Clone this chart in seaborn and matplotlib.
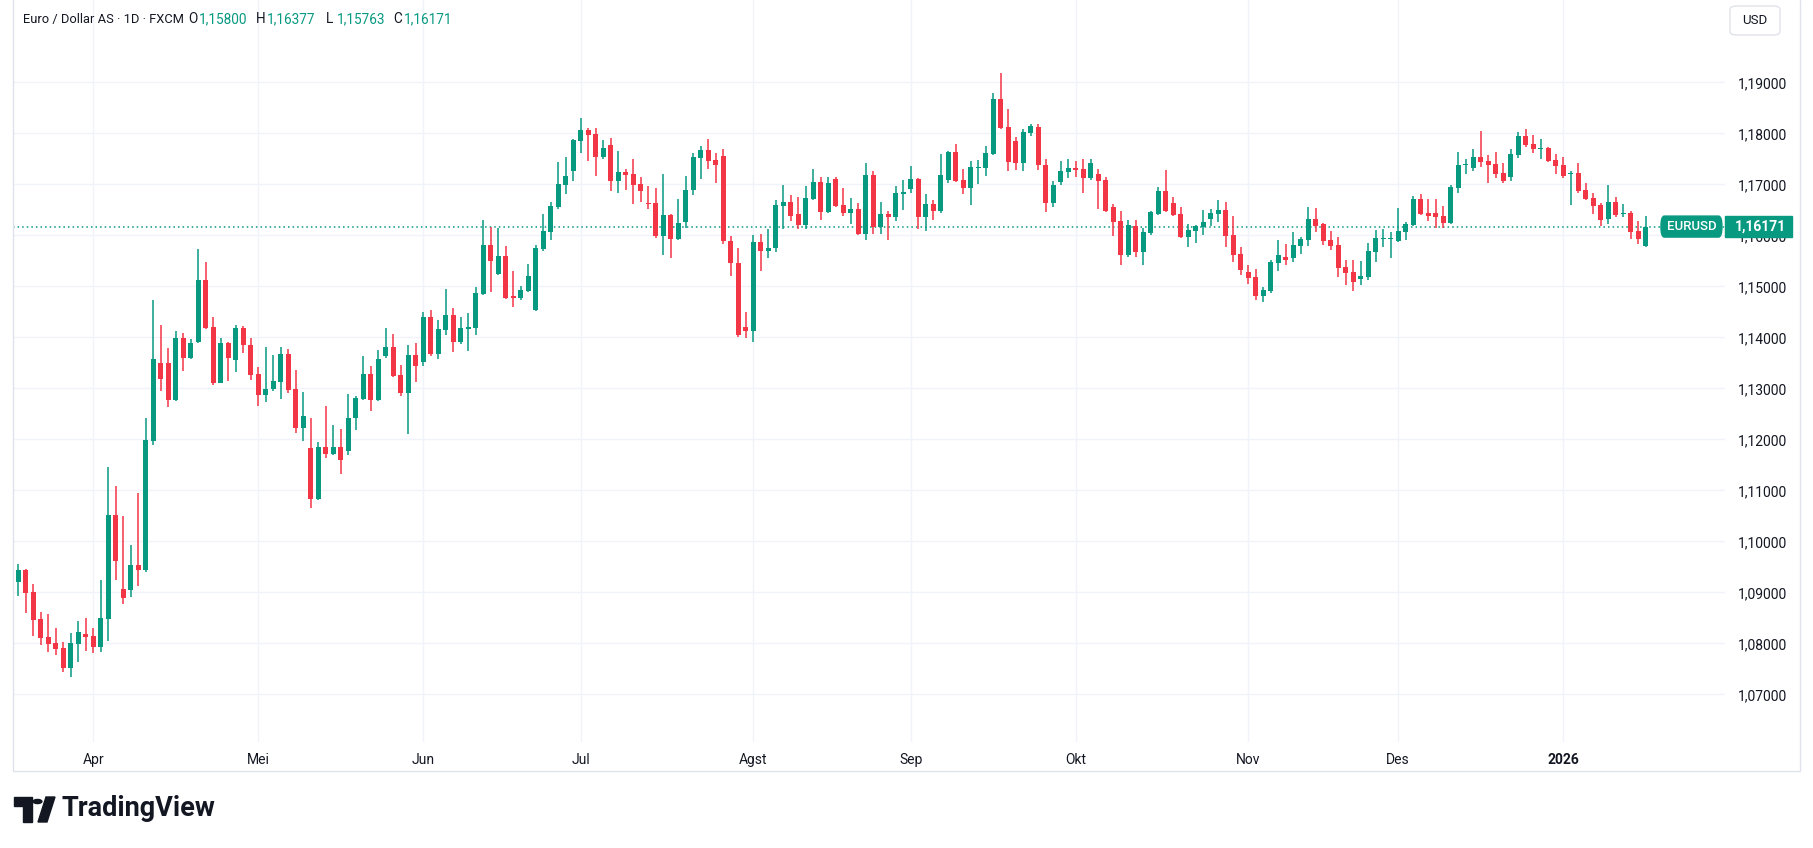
import pandas as pd
import numpy as np
import matplotlib.pyplot as plt
import seaborn as sns
from matplotlib.lines import Line2D
from matplotlib.patches import Rectangle, Polygon, Circle, FancyBboxPatch
from matplotlib.transforms import blended_transform_factory

# Daily EUR/USD bars (weekdays, no bar on Christmas day)
dates = pd.bdate_range('2025-03-18', '2026-01-16')
dates = dates[dates != pd.Timestamp('2025-12-25')]

opens = [
    1.0921, 1.0944, 1.0900, 1.0848, 1.0812, 1.0801, 1.0791, 1.0752, 1.0799, 1.0818,
    1.0814, 1.0792, 1.0848, 1.1052, 1.0907, 1.0905, 1.0954, 1.0944, 1.1197, 1.1350,
    1.1350, 1.1277, 1.1399, 1.1360, 1.1390, 1.1512, 1.1420, 1.1311, 1.1389, 1.1356,
    1.1418, 1.1385, 1.1328, 1.1286, 1.1299, 1.1313, 1.1367, 1.1299, 1.1223, 1.1183,
    1.1082, 1.1185, 1.1172, 1.1185, 1.1178, 1.1241, 1.1280, 1.1328, 1.1278, 1.1363,
    1.1381, 1.1326, 1.1290, 1.1365, 1.1352, 1.1440, 1.1367, 1.1414, 1.1444, 1.1391,
    1.1416, 1.1418, 1.1485, 1.1581, 1.1524, 1.1559, 1.1480, 1.1477, 1.1491, 1.1454,
    1.1573, 1.1607, 1.1656, 1.1699, 1.1726, 1.1785, 1.1807, 1.1799, 1.1754, 1.1777,
    1.1707, 1.1724, 1.1720, 1.1701, 1.1663, 1.1663, 1.1599, 1.1640, 1.1593, 1.1626,
    1.1688, 1.1752, 1.1767, 1.1748, 1.1756, 1.1588, 1.1545, 1.1420, 1.1412, 1.1586,
    1.1570, 1.1575, 1.1658, 1.1665, 1.1642, 1.1620, 1.1671, 1.1705, 1.1646, 1.1710,
    1.1659, 1.1644, 1.1652, 1.1603, 1.1718, 1.1616, 1.1642, 1.1636, 1.1681, 1.1691,
    1.1710, 1.1636, 1.1661, 1.1648, 1.1708, 1.1763, 1.1708, 1.1693, 1.1732, 1.1732,
    1.1759, 1.1867, 1.1812, 1.1785, 1.1742, 1.1801, 1.1812, 1.1738, 1.1664, 1.1705,
    1.1724, 1.1732, 1.1730, 1.1712, 1.1720, 1.1708, 1.1656, 1.1628, 1.1561, 1.1618,
    1.1567, 1.1605, 1.1642, 1.1687, 1.1663, 1.1642, 1.1597, 1.1608, 1.1616, 1.1632,
    1.1642, 1.1650, 1.1601, 1.1563, 1.1528, 1.1518, 1.1481, 1.1491, 1.1546, 1.1558,
    1.1556, 1.1579, 1.1591, 1.1632, 1.1622, 1.1591, 1.1581, 1.1538, 1.1528, 1.1514,
    1.1518, 1.1567, 1.1593, 1.1593, 1.1589, 1.1607, 1.1620, 1.1671, 1.1644, 1.1644,
    1.1638, 1.1624, 1.1693, 1.1737, 1.1732, 1.1754, 1.1746, 1.1740, 1.1722, 1.1714,
    1.1758, 1.1795, 1.1779, 1.1769, 1.1771, 1.1748, 1.1738, 1.1720, 1.1722, 1.1689,
    1.1673, 1.1659, 1.1632, 1.1665, 1.1642, 1.1644, 1.1608, 1.15800,
]
highs = [
    1.0956, 1.0946, 1.0916, 1.0861, 1.0858, 1.0830, 1.0803, 1.0820, 1.0844, 1.0850,
    1.0830, 1.0924, 1.1146, 1.1108, 1.1050, 1.0993, 1.1095, 1.1242, 1.1473, 1.1424,
    1.1379, 1.1412, 1.1408, 1.1397, 1.1573, 1.1548, 1.1440, 1.1399, 1.1391, 1.1424,
    1.1422, 1.1399, 1.1342, 1.1381, 1.1365, 1.1381, 1.1377, 1.1336, 1.1293, 1.1242,
    1.1195, 1.1265, 1.1228, 1.1220, 1.1289, 1.1285, 1.1363, 1.1344, 1.1375, 1.1418,
    1.1407, 1.1346, 1.1385, 1.1389, 1.1450, 1.1454, 1.1434, 1.1495, 1.1458, 1.1440,
    1.1448, 1.1499, 1.1630, 1.1616, 1.1614, 1.1579, 1.1530, 1.1501, 1.1544, 1.1581,
    1.1642, 1.1666, 1.1744, 1.1754, 1.1789, 1.1830, 1.1810, 1.1810, 1.1787, 1.1791,
    1.1765, 1.1730, 1.1750, 1.1714, 1.1697, 1.1693, 1.1720, 1.1642, 1.1671, 1.1716,
    1.1761, 1.1775, 1.1789, 1.1761, 1.1769, 1.1598, 1.1575, 1.1450, 1.1600, 1.1603,
    1.1612, 1.1669, 1.1699, 1.1679, 1.1675, 1.1697, 1.1730, 1.1714, 1.1714, 1.1714,
    1.1693, 1.1673, 1.1663, 1.1742, 1.1726, 1.1665, 1.1648, 1.1697, 1.1708, 1.1736,
    1.1712, 1.1681, 1.1669, 1.1759, 1.1765, 1.1779, 1.1730, 1.1746, 1.1748, 1.1775,
    1.1879, 1.1918, 1.1848, 1.1793, 1.1808, 1.1819, 1.1818, 1.1750, 1.1707, 1.1745,
    1.1750, 1.1745, 1.1750, 1.1750, 1.1730, 1.1714, 1.1661, 1.1648, 1.1630, 1.1630,
    1.1614, 1.1648, 1.1695, 1.1728, 1.1675, 1.1656, 1.1622, 1.1620, 1.1650, 1.1652,
    1.1669, 1.1665, 1.1638, 1.1577, 1.1542, 1.1534, 1.1499, 1.1552, 1.1591, 1.1583,
    1.1607, 1.1597, 1.1656, 1.1654, 1.1624, 1.1608, 1.1597, 1.1552, 1.1552, 1.1550,
    1.1585, 1.1610, 1.1612, 1.1607, 1.1654, 1.1626, 1.1677, 1.1681, 1.1671, 1.1671,
    1.1658, 1.1699, 1.1763, 1.1750, 1.1769, 1.1805, 1.1758, 1.1763, 1.1742, 1.1769,
    1.1803, 1.1808, 1.1797, 1.1789, 1.1773, 1.1759, 1.1754, 1.1726, 1.1742, 1.1703,
    1.1683, 1.1663, 1.1699, 1.1675, 1.1661, 1.1648, 1.1628, 1.16377,
]
lows = [
    1.0893, 1.0860, 1.0815, 1.0797, 1.0782, 1.0777, 1.0744, 1.0733, 1.0764, 1.0784,
    1.0780, 1.0782, 1.0805, 1.0924, 1.0878, 1.0890, 1.0913, 1.0940, 1.1188, 1.1295,
    1.1264, 1.1275, 1.1334, 1.1357, 1.1388, 1.1417, 1.1307, 1.1310, 1.1315, 1.1331,
    1.1370, 1.1317, 1.1266, 1.1274, 1.1295, 1.1280, 1.1291, 1.1213, 1.1197, 1.1066,
    1.1080, 1.1164, 1.1170, 1.1131, 1.1170, 1.1219, 1.1278, 1.1256, 1.1276, 1.1360,
    1.1322, 1.1284, 1.1211, 1.1312, 1.1344, 1.1363, 1.1358, 1.1405, 1.1371, 1.1387,
    1.1373, 1.1405, 1.1483, 1.1489, 1.1522, 1.1475, 1.1459, 1.1473, 1.1489, 1.1452,
    1.1570, 1.1590, 1.1652, 1.1681, 1.1707, 1.1761, 1.1746, 1.1716, 1.1750, 1.1687,
    1.1683, 1.1689, 1.1661, 1.1665, 1.1652, 1.1594, 1.1561, 1.1556, 1.1591, 1.1614,
    1.1679, 1.1710, 1.1730, 1.1703, 1.1582, 1.1520, 1.1400, 1.1398, 1.1390, 1.1530,
    1.1555, 1.1568, 1.1612, 1.1628, 1.1612, 1.1612, 1.1669, 1.1630, 1.1644, 1.1656,
    1.1638, 1.1622, 1.1601, 1.1591, 1.1603, 1.1603, 1.1591, 1.1628, 1.1650, 1.1683,
    1.1612, 1.1608, 1.1630, 1.1644, 1.1703, 1.1705, 1.1681, 1.1659, 1.1701, 1.1716,
    1.1758, 1.1808, 1.1726, 1.1728, 1.1726, 1.1795, 1.1729, 1.1646, 1.1656, 1.1699,
    1.1712, 1.1714, 1.1683, 1.1708, 1.1652, 1.1646, 1.1599, 1.1542, 1.1558, 1.1558,
    1.1542, 1.1601, 1.1640, 1.1646, 1.1638, 1.1595, 1.1577, 1.1585, 1.1601, 1.1618,
    1.1626, 1.1577, 1.1548, 1.1522, 1.1505, 1.1473, 1.1469, 1.1487, 1.1530, 1.1542,
    1.1548, 1.1563, 1.1579, 1.1607, 1.1581, 1.1571, 1.1518, 1.1503, 1.1491, 1.1503,
    1.1512, 1.1548, 1.1577, 1.1556, 1.1587, 1.1591, 1.1618, 1.1640, 1.1628, 1.1614,
    1.1614, 1.1622, 1.1683, 1.1720, 1.1726, 1.1734, 1.1703, 1.1712, 1.1703, 1.1707,
    1.1752, 1.1773, 1.1761, 1.1750, 1.1744, 1.1720, 1.1712, 1.1659, 1.1683, 1.1669,
    1.1642, 1.1618, 1.1622, 1.1636, 1.1636, 1.1593, 1.1583, 1.15763,
]
closes = [
    1.0944, 1.0899, 1.0846, 1.0811, 1.0799, 1.0789, 1.0752, 1.0801, 1.0822, 1.0813,
    1.0792, 1.0850, 1.1052, 1.0962, 1.0888, 1.0954, 1.0944, 1.1199, 1.1358, 1.1319,
    1.1277, 1.1399, 1.1360, 1.1389, 1.1512, 1.1418, 1.1311, 1.1389, 1.1360, 1.1418,
    1.1384, 1.1327, 1.1286, 1.1299, 1.1314, 1.1367, 1.1297, 1.1223, 1.1246, 1.1082,
    1.1185, 1.1172, 1.1185, 1.1160, 1.1242, 1.1281, 1.1328, 1.1278, 1.1358, 1.1381,
    1.1324, 1.1290, 1.1365, 1.1344, 1.1440, 1.1367, 1.1416, 1.1444, 1.1391, 1.1418,
    1.1420, 1.1487, 1.1581, 1.1550, 1.1559, 1.1477, 1.1478, 1.1493, 1.1520, 1.1575,
    1.1608, 1.1658, 1.1701, 1.1716, 1.1787, 1.1807, 1.1797, 1.1754, 1.1771, 1.1707,
    1.1724, 1.1718, 1.1699, 1.1687, 1.1662, 1.1599, 1.1640, 1.1593, 1.1624, 1.1689,
    1.1754, 1.1767, 1.1746, 1.1738, 1.1588, 1.1545, 1.1405, 1.1412, 1.1586, 1.1570,
    1.1575, 1.1659, 1.1665, 1.1638, 1.1620, 1.1673, 1.1705, 1.1646, 1.1703, 1.1658,
    1.1644, 1.1652, 1.1603, 1.1718, 1.1616, 1.1642, 1.1636, 1.1683, 1.1685, 1.1710,
    1.1636, 1.1661, 1.1648, 1.1718, 1.1763, 1.1707, 1.1693, 1.1734, 1.1734, 1.1761,
    1.1867, 1.1810, 1.1744, 1.1742, 1.1803, 1.1814, 1.1737, 1.1664, 1.1699, 1.1726,
    1.1732, 1.1728, 1.1712, 1.1742, 1.1707, 1.1648, 1.1626, 1.1561, 1.1620, 1.1567,
    1.1607, 1.1646, 1.1687, 1.1648, 1.1640, 1.1597, 1.1610, 1.1618, 1.1626, 1.1644,
    1.1650, 1.1599, 1.1561, 1.1532, 1.1516, 1.1481, 1.1493, 1.1548, 1.1561, 1.1552,
    1.1581, 1.1593, 1.1632, 1.1618, 1.1589, 1.1579, 1.1536, 1.1526, 1.1508, 1.1520,
    1.1569, 1.1595, 1.1595, 1.1595, 1.1608, 1.1622, 1.1671, 1.1642, 1.1638, 1.1636,
    1.1624, 1.1695, 1.1738, 1.1739, 1.1754, 1.1744, 1.1738, 1.1720, 1.1707, 1.1759,
    1.1795, 1.1777, 1.1769, 1.1771, 1.1746, 1.1736, 1.1716, 1.1722, 1.1687, 1.1671,
    1.1658, 1.1630, 1.1665, 1.1640, 1.1644, 1.1607, 1.1593, 1.16171,
]

price_ticks = [1.07, 1.08, 1.09, 1.10, 1.11, 1.12, 1.13, 1.14, 1.15, 1.16, 1.17, 1.18, 1.19]
month_labels = ['Apr', 'Mei', 'Jun', 'Jul', 'Agst', 'Sep', 'Okt', 'Nov', 'Des', '2026']

symbol_title = 'Euro / Dollar AS · 1D · FXCM'
ticker = 'EURUSD'

GREEN = '#089981'
RED = '#F23645'
TEXT = '#131722'
GRID = '#f0f3fa'
BORDER = '#e0e3eb'

df = pd.DataFrame({'date': dates, 'open': opens, 'high': highs,
                   'low': lows, 'close': closes})
assert len(df) == 218
df['x'] = np.arange(len(df))
df['up'] = df['close'] >= df['open']
df['color'] = np.where(df['up'], GREEN, RED)
df['body_lo'] = df[['open', 'close']].min(axis=1)
df['body_h'] = (df['close'] - df['open']).abs().clip(lower=0.00022)

# first bar of each month for the time axis
month_start = df.groupby(df['date'].dt.to_period('M'))['x'].min().values[1:]

sns.set_theme(style='white')
plt.rcParams['font.family'] = ['Roboto', 'DejaVu Sans']

W, H = 1813, 848
fig = plt.figure(figsize=(W / 100, H / 100), dpi=100)
fig.patch.set_facecolor('white')
pane_left, pane_right, pane_bottom = 12.7, 1725, 742
ax = fig.add_axes([pane_left / W, 1 - pane_bottom / H,
                   (pane_right - pane_left) / W, pane_bottom / H])

# grid
for p in price_ticks:
    ax.axhline(p, color=GRID, lw=1, zorder=0)
for m in month_start:
    ax.axvline(m, color=GRID, lw=1, zorder=0)

# candles
ax.vlines(df['x'], df['low'], df['high'], colors=df['color'], lw=1.1, zorder=2)
ax.bar(df['x'], df['body_h'], bottom=df['body_lo'], width=0.67,
       color=df['color'], linewidth=0, zorder=3)

last = df.iloc[-1]
ax.axhline(last['close'], color=GREEN, lw=1.1, ls=(0, (1, 2)), zorder=1)

ax.set_xlim(-0.75, 227.6)
ax.set_ylim(1.19 - (pane_bottom - 82.3) / 5100, 1.19 + 82.3 / 5100)

ax.yaxis.tick_right()
ax.set_yticks(price_ticks)
ax.set_yticklabels([f'{p:.5f}'.replace('.', ',') for p in price_ticks])
ax.tick_params(axis='y', length=0, pad=9, labelsize=10, labelcolor=TEXT)
ax.set_xticks(month_start)
ax.set_xticklabels(month_labels)
ax.tick_params(axis='x', length=0, pad=8, labelsize=10, labelcolor=TEXT)
ax.get_xticklabels()[-1].set_fontweight('bold')
for s in ax.spines.values():
    s.set_visible(False)

# last price tags (the price tag sits over the 1,16000 label, as in the app)
tr = blended_transform_factory(ax.transAxes, ax.transData)
tag_h = 21 / 5100
ax.add_patch(FancyBboxPatch((0.9626, last['close'] - tag_h / 2), 0.0356, tag_h,
                            boxstyle='round,pad=0,rounding_size=0.002',
                            transform=tr, color=GREEN, clip_on=False, zorder=5))
ax.text(0.9804, last['close'], ticker, transform=tr, ha='center', va='center',
        color='white', fontsize=9.5, fontweight='medium', zorder=6)
ax.add_patch(Rectangle((1.0, last['close'] - tag_h / 2), 0.0391, tag_h,
                       transform=tr, color=GREEN, clip_on=False, zorder=5))
ax.text(1.0055, last['close'], f"{last['close']:.5f}".replace('.', ','),
        transform=tr, ha='left', va='center', color='white', fontsize=10,
        fontweight='bold', clip_on=False, zorder=6)


def fx(px):
    return px / W


def fy(py):
    return 1 - py / H


# widget border
fig.add_artist(Line2D([fx(12.5), fx(12.5), fx(1800), fx(1800)],
                      [fy(0), fy(771), fy(771), fy(0)], color=BORDER, lw=1))

# header legend
fig.text(fx(23), fy(19), symbol_title, fontsize=9.3, color=TEXT, va='center')
ohlc = [('O', last['open'], 188), ('H', last['high'], 256),
        ('L', last['low'], 326), ('C', last['close'], 393)]
for lab, val, px in ohlc:
    fig.text(fx(px), fy(19), lab, fontsize=9.8, color=TEXT, va='center')
    fig.text(fx(px + 10.5), fy(19), f'{val:.5f}'.replace('.', ','), fontsize=9.8,
             color=GREEN, va='center')

# currency box
fig.add_artist(FancyBboxPatch((fx(1730), fy(35)), fx(50), 29 / H,
                              boxstyle='round,pad=0,rounding_size=0.004',
                              transform=fig.transFigure, facecolor='white',
                              edgecolor=BORDER, lw=1))
fig.text(fx(1755), fy(20.5), 'USD', fontsize=9.5, color=TEXT,
         ha='center', va='center')

# TradingView logo
logo_t = [(14, 797), (32, 797), (32, 822), (23, 822), (23, 806), (14, 806)]
fig.add_artist(Polygon([(fx(a), fy(b)) for a, b in logo_t], closed=True,
                       transform=fig.transFigure, color=TEXT))
fig.add_artist(Circle((fx(37.5), fy(801.5)), 4.4 / W, transform=fig.transFigure,
                      color=TEXT))
logo_s = [(38, 822), (46, 797), (55, 797), (47, 822)]
fig.add_artist(Polygon([(fx(a), fy(b)) for a, b in logo_s], closed=True,
                       transform=fig.transFigure, color=TEXT))
fig.text(fx(61), fy(809), 'TradingView', fontsize=19.5, fontweight='bold',
         color=TEXT, va='center')

fig.savefig('out.png', dpi=100)
